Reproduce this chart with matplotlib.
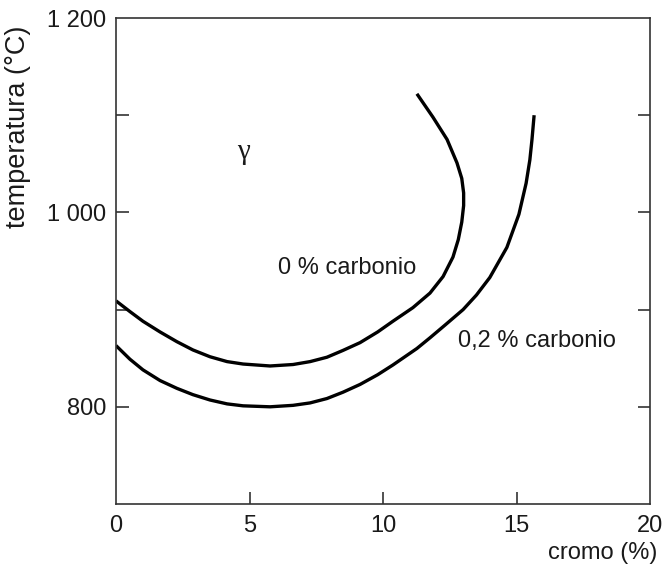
import matplotlib
matplotlib.use("Agg")
import matplotlib.pyplot as plt
from matplotlib.ticker import FixedLocator, NullFormatter

plt.rcParams['font.family'] = ['Liberation Sans', 'DejaVu Sans']

# 0 % carbonio (curve folds back on itself, so points are given in order)
cr_0 = [0.0, 0.52, 1.01, 1.65, 2.28, 2.88, 3.52, 4.16, 4.76, 5.77, 6.63, 7.27,
        7.9, 8.5, 9.14, 9.8, 10.37, 11.12, 11.76, 12.25, 12.62, 12.82, 12.95,
        13.02, 13.02, 12.95, 12.77, 12.40, 11.87, 11.27]
t_0 = [909, 898, 888, 877, 867, 858.5, 851.5, 846.5, 844, 842, 843.5, 846.5,
       851, 858, 866, 877, 888, 902, 917, 934, 954, 972, 990,
       1007, 1020, 1035, 1051, 1075, 1098, 1122]

# 0,2 % carbonio
cr_02 = [0.0, 0.52, 1.01, 1.65, 2.28, 2.88, 3.52, 4.16, 4.76, 5.77, 6.63, 7.27,
         7.9, 8.5, 9.14, 9.8, 10.37, 11.27, 11.76, 12.32, 13.0, 13.5, 14.0,
         14.64, 15.09, 15.36, 15.5, 15.58, 15.66]
t_02 = [863, 849, 838, 827, 819, 812.5, 807, 803, 801, 800, 801.5, 804,
        808.5, 815, 823, 833, 843, 860, 871, 884, 900, 915, 933,
        964, 998, 1030, 1054, 1075, 1100]

x_ticks = [0, 5, 10, 15, 20]
y_major = [800, 1000, 1200]
y_major_labels = ["800", "1 000", "1 200"]
y_minor = [900, 1100]

fig = plt.figure(figsize=(6.69, 5.72), dpi=100)
ax = fig.add_axes([116 / 669, 1 - 504 / 572, 534 / 669, 486 / 572])

ax.plot(cr_0, t_0, color='black', lw=2.4, solid_capstyle='butt',
        solid_joinstyle='round')
ax.plot(cr_02, t_02, color='black', lw=2.4, solid_capstyle='butt',
        solid_joinstyle='round')

ax.set_xlim(0, 20)
ax.set_ylim(700, 1200)

for s in ax.spines.values():
    s.set_color('#333333')
    s.set_linewidth(1.2)

ax.set_xticks(x_ticks)
ax.set_xticklabels([str(v) for v in x_ticks])
ax.set_yticks(y_major)
ax.set_yticklabels(y_major_labels)
ax.yaxis.set_minor_locator(FixedLocator(y_minor))
ax.yaxis.set_minor_formatter(NullFormatter())
ax.tick_params(axis='both', which='both', direction='in', colors='#333333',
               labelcolor='#1a1a1a', labelsize=17, width=1.2, length=9,
               right=True, top=False)
ax.tick_params(axis='y', which='major', pad=7)
ax.tick_params(axis='x', which='major', pad=8)
ax.tick_params(axis='y', which='minor', length=9)

# hide ticks that fall on the frame edges
for t in ax.xaxis.get_major_ticks():
    if t.get_loc() in (0, 20):
        t.tick1line.set_visible(False)
for t in ax.yaxis.get_major_ticks():
    if t.get_loc() == 1200:
        t.tick1line.set_visible(False)
        t.tick2line.set_visible(False)

ax.text(4.76, 1062, "γ", fontsize=21, family='Liberation Serif',
        ha='center', va='center', color='#1a1a1a')
ax.text(8.65, 943, "0 % carbonio", fontsize=17, ha='center', va='center',
        color='#1a1a1a')
ax.text(15.77, 868, "0,2 % carbonio", fontsize=17, ha='center', va='center',
        color='#1a1a1a')

fig.text(18 / 669, 1 - 127 / 572, "temperatura (°C)", rotation=90, fontsize=19.5,
         ha='center', va='center', color='#1a1a1a')
fig.text(657 / 669, 1 - 553 / 572, "cromo (%)", fontsize=17, ha='right',
         va='center', color='#1a1a1a')

fig.savefig("out.png", dpi=100)
